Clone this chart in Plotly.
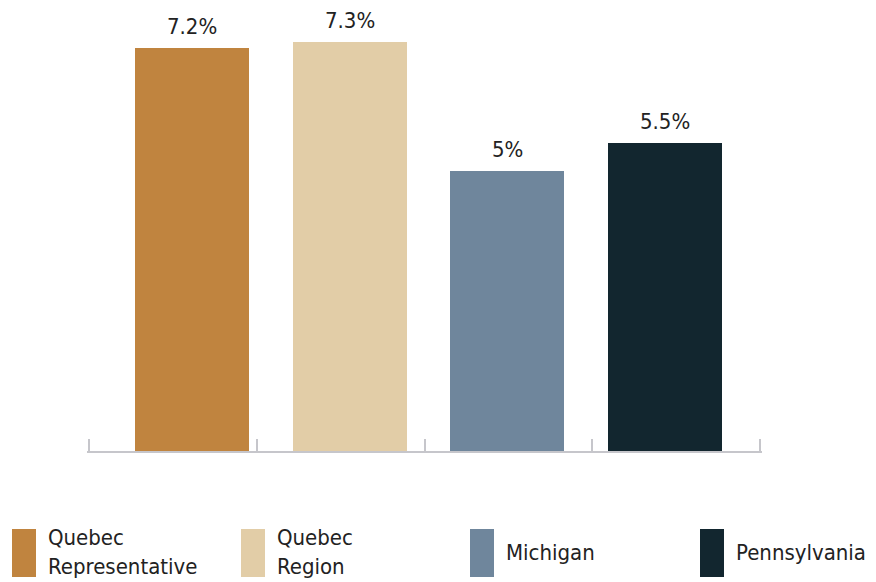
import numpy as np
import plotly.graph_objects as go

regions = ["Quebec<br>Representative", "Quebec<br>Region", "Michigan", "Pennsylvania"]
rates = [7.2, 7.3, 5.0, 5.5]
labels = ["7.2%", "7.3%", "5%", "5.5%"]
colors = ["#C0843F", "#E2CDA7", "#6F869C", "#12262F"]

FONT = "DejaVu Sans Condensed, Liberation Sans Narrow, Roboto, sans-serif"
# page body has an 8px margin, so the figure is drawn 8px smaller and shifted
OFF = 8
W, H = 876 - OFF, 582 - OFF
ML, MR, MT, MB = 87 - OFF, 114, 0, 131
plot_w = W - ML - MR
plot_h = H - MT - MB
x_range = [-0.667, -0.667 + plot_w / 157.5]
y_top = plot_h / 56.0

fig = go.Figure()
fig.add_trace(go.Bar(
    x=list(range(len(rates))),
    y=rates,
    width=0.724,
    marker=dict(color=colors, line=dict(width=0)),
    showlegend=False,
    hoverinfo="skip",
))

for i, (v, lab) in enumerate(zip(rates, labels)):
    fig.add_annotation(
        x=i, y=v, text=lab, showarrow=False,
        yanchor="bottom", yshift=8, borderpad=0,
        font=dict(family=FONT, size=22, color="#222222"),
    )


def px_x(p):
    return (p - OFF - ML) / plot_w


def px_y(p):
    return (H - MB - (p - OFF)) / plot_h


# legend built from shapes + annotations (tall swatches)
swatch_left = [12, 241, 470, 700]
for i, name in enumerate(regions):
    fig.add_shape(
        type="rect", xref="paper", yref="paper",
        x0=px_x(swatch_left[i]), x1=px_x(swatch_left[i] + 24),
        y0=px_y(577), y1=px_y(529),
        fillcolor=colors[i], line=dict(width=0),
    )
    fig.add_annotation(
        text=name, xref="paper", yref="paper",
        x=px_x(swatch_left[i] + 34), y=px_y(552),
        xanchor="left", yanchor="middle", align="left",
        showarrow=False,
        font=dict(family=FONT, size=22, color="#222222"),
    )

fig.update_layout(
    width=W, height=H,
    margin=dict(l=ML, r=MR, t=MT, b=MB),
    paper_bgcolor="white",
    plot_bgcolor="white",
    bargap=0,
    xaxis=dict(
        range=x_range,
        showgrid=False, zeroline=False,
        showline=True, linecolor="#C6C6CB", linewidth=2,
        ticks="inside", ticklen=12, tickwidth=2, tickcolor="#C6C6CB",
        tickvals=list(np.linspace(x_range[0] + 0.01, x_range[1] - 0.01, 5)),
        showticklabels=False,
    ),
    yaxis=dict(range=[0, y_top], visible=False),
)

fig.write_html("out.html")
